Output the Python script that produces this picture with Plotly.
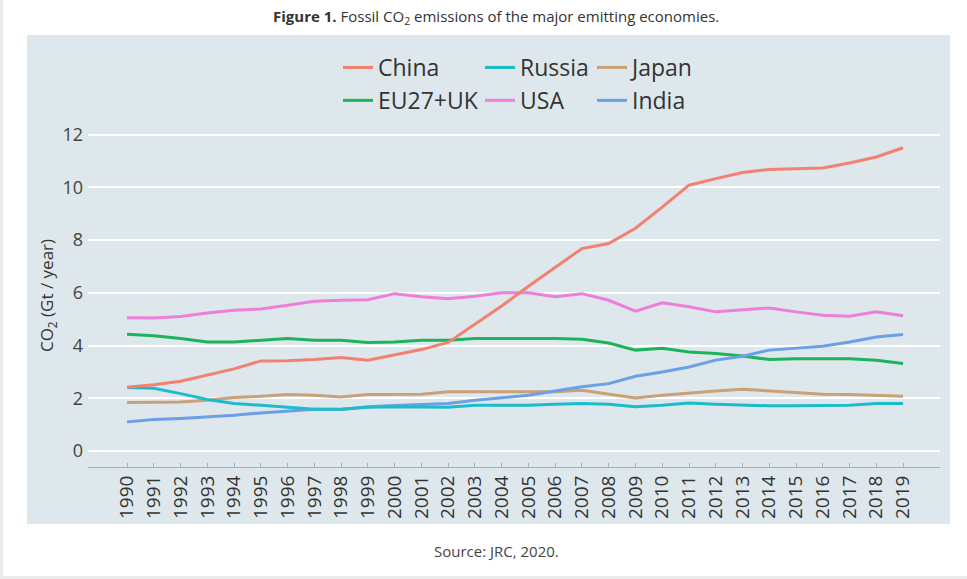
import plotly.graph_objects as go

years = list(range(1990, 2020))
year_labels = [str(y) for y in years]

china = [2.42, 2.52, 2.65, 2.88, 3.12, 3.42, 3.43, 3.47, 3.55, 3.45, 3.66, 3.85, 4.12, 4.8, 5.5,
         6.25, 6.95, 7.68, 7.87, 8.45, 9.25, 10.08, 10.33, 10.56, 10.68, 10.7, 10.73, 10.92, 11.15, 11.5]
russia = [2.41, 2.38, 2.18, 1.96, 1.81, 1.74, 1.68, 1.59, 1.59, 1.66, 1.68, 1.68, 1.66, 1.74, 1.74,
          1.74, 1.78, 1.81, 1.78, 1.68, 1.74, 1.83, 1.78, 1.74, 1.72, 1.72, 1.72, 1.74, 1.81, 1.81]
japan = [1.84, 1.84, 1.86, 1.93, 2.03, 2.08, 2.15, 2.12, 2.05, 2.15, 2.16, 2.16, 2.25, 2.25, 2.25,
         2.25, 2.25, 2.31, 2.16, 2.02, 2.12, 2.21, 2.28, 2.35, 2.28, 2.21, 2.16, 2.15, 2.11, 2.08]
eu = [4.43, 4.37, 4.27, 4.14, 4.14, 4.2, 4.27, 4.2, 4.2, 4.12, 4.14, 4.2, 4.2, 4.27, 4.27,
      4.27, 4.27, 4.24, 4.1, 3.83, 3.9, 3.76, 3.7, 3.61, 3.47, 3.5, 3.5, 3.5, 3.45, 3.32]
usa = [5.06, 5.05, 5.1, 5.24, 5.34, 5.39, 5.53, 5.68, 5.72, 5.74, 5.97, 5.85, 5.78, 5.87, 6.0,
       6.0, 5.85, 5.97, 5.72, 5.31, 5.62, 5.47, 5.28, 5.36, 5.43, 5.28, 5.15, 5.11, 5.28, 5.13]
india = [1.11, 1.2, 1.24, 1.3, 1.36, 1.45, 1.51, 1.59, 1.58, 1.68, 1.73, 1.78, 1.81, 1.93, 2.03,
         2.12, 2.28, 2.44, 2.56, 2.84, 3.0, 3.19, 3.45, 3.6, 3.83, 3.9, 3.98, 4.14, 4.33, 4.42]

# name, values, colour, legend box, rank within legend box
series = [
    ("China", china, "#f3816f", "legend", 1),
    ("EU27+UK", eu, "#1db35a", "legend", 2),
    ("Russia", russia, "#1cbccb", "legend2", 1),
    ("USA", usa, "#ee7ed8", "legend2", 2),
    ("Japan", japan, "#c9a078", "legend3", 1),
    ("India", india, "#6b9fe6", "legend3", 2),
]
draw_order = ["USA", "EU27+UK", "Japan", "India", "Russia", "China"]

W, H = 967, 579
L, R, T, B = 88, 940, 124, 467

def px(x):
    return (x - L) / (R - L)

def py(y):
    return (B - y) / (B - T)

FONT = "Open Sans, Noto Sans, sans-serif"
fig = go.Figure()
lookup = {s[0]: s for s in series}
for name in draw_order:
    n, vals, col, lg, rank = lookup[name]
    fig.add_trace(go.Scatter(x=years, y=vals, mode="lines", name=n,
                             line=dict(color=col, width=3), legend=lg, legendrank=rank))

legend_common = dict(orientation="v", bgcolor="rgba(0,0,0,0)", borderwidth=0,
                     font=dict(family=FONT, size=23, color="#333333"),
                     xanchor="left", yanchor="top", traceorder="normal",
                     itemwidth=30, tracegroupgap=0)

fig.update_layout(
    width=W, height=H,
    margin=dict(l=L, r=W - R, t=T, b=H - B, autoexpand=False),
    paper_bgcolor="white",
    plot_bgcolor="rgba(0,0,0,0)",
    font=dict(family=FONT, color="#333333"),
    legend=dict(x=px(338), y=py(46), **legend_common),
    legend2=dict(x=px(480), y=py(46), **legend_common),
    legend3=dict(x=px(592), y=py(46), **legend_common),
    xaxis=dict(
        range=[1988.54, 2020.38], tickmode="array", tickvals=years, ticktext=year_labels,
        tickangle=-90, tickfont=dict(size=19, color="#333333"),
        showgrid=False, zeroline=False, showline=True, linecolor="#a8b0b5", linewidth=1,
        ticks="inside", ticklen=4, tickcolor="#a8b0b5", automargin=False,
    ),
    yaxis=dict(
        range=[-0.6, 12.4], tickvals=[0, 2, 4, 6, 8, 10, 12],
        tickfont=dict(size=18, color="#444444"),
        showgrid=True, gridcolor="white", gridwidth=2, zeroline=False,
        title=dict(text="CO<sub>2</sub> (Gt / year)", font=dict(size=17, color="#333333"), standoff=4),
        ticklabelstandoff=4, automargin=False,
    ),
    shapes=[
        dict(type="rect", xref="paper", yref="paper", x0=px(27), x1=px(950), y0=py(524), y1=py(35),
             fillcolor="#dde7ec", line=dict(width=0), layer="below"),
        dict(type="rect", xref="paper", yref="paper", x0=px(1.5), x1=px(W + 2), y0=py(H - 1.5), y1=py(-2),
             fillcolor="rgba(0,0,0,0)", line=dict(color="#ebebeb", width=3), layer="below"),
    ],
    annotations=[
        dict(text="<b>Figure 1.</b> Fossil CO<sub>2</sub> emissions of the major emitting economies.",
             xref="paper", yref="paper", x=px(496), y=py(17), xanchor="center", yanchor="middle",
             showarrow=False, font=dict(size=15, color="#333333", family=FONT)),
        dict(text="Source: JRC, 2020.", xref="paper", yref="paper", x=px(496), y=py(551),
             xanchor="center", yanchor="middle", showarrow=False,
             font=dict(size=15, color="#444444", family=FONT)),
    ],
)

fig.write_html("out.html", config={"displayModeBar": False},
               post_script="document.body.style.margin='0';document.body.style.overflow='hidden';")
